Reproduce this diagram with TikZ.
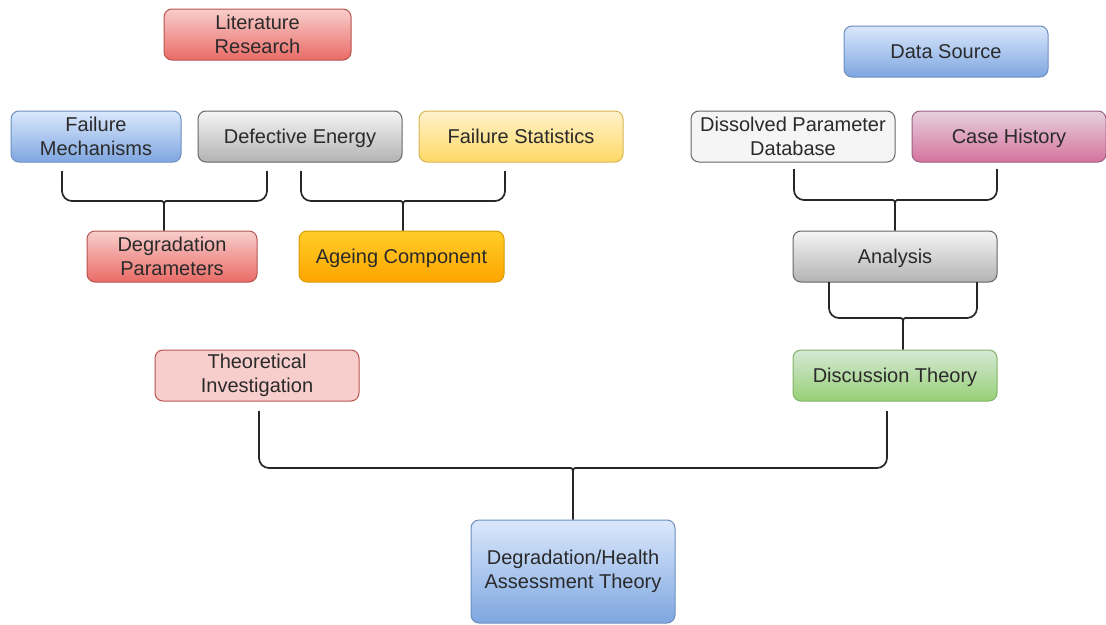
\documentclass[tikz,border=0pt]{standalone}
\usepackage{fontspec}
\setmainfont{Liberation Sans}
\usetikzlibrary{calc}
\definecolor{txt}{HTML}{2A2A2A}
\definecolor{redT}{HTML}{F8CECC}\definecolor{redB}{HTML}{EA6B66}\definecolor{redD}{HTML}{B85450}
\definecolor{bluT}{HTML}{DAE8FC}\definecolor{bluB}{HTML}{7EA6E0}\definecolor{bluD}{HTML}{6C8EBF}
\definecolor{gryT}{HTML}{F5F5F5}\definecolor{gryB}{HTML}{B3B3B3}\definecolor{gryD}{HTML}{666666}
\definecolor{yelT}{HTML}{FFF2CC}\definecolor{yelB}{HTML}{FFD966}\definecolor{yelD}{HTML}{D6B656}
\definecolor{orgT}{HTML}{FFCD28}\definecolor{orgB}{HTML}{FFA500}\definecolor{orgD}{HTML}{D79B00}
\definecolor{pnkT}{HTML}{E6D0DE}\definecolor{pnkB}{HTML}{D5739D}\definecolor{pnkD}{HTML}{996185}
\definecolor{grnT}{HTML}{D5E8D4}\definecolor{grnB}{HTML}{97D077}\definecolor{grnD}{HTML}{82B366}
\definecolor{lnk}{HTML}{262626}
\tikzset{
  box/.style={rounded corners=8pt, draw, line width=1pt, minimum height=51pt,
    minimum width=204pt, align=center, inner sep=1pt, text=txt,
    font=\fontsize{20}{24}\selectfont},
  single/.style={text height=16.5pt, text depth=2.2pt},
  redbox/.style={box, top color=redT, bottom color=redB, draw=redD},
  bluebox/.style={box, top color=bluT, bottom color=bluB, draw=bluD},
  graybox/.style={box, top color=gryT, bottom color=gryB, draw=gryD},
  yellowbox/.style={box, top color=yelT, bottom color=yelB, draw=yelD},
  orangebox/.style={box, top color=orgT, bottom color=orgB, draw=orgD},
  pinkbox/.style={box, top color=pnkT, bottom color=pnkB, draw=pnkD},
  greenbox/.style={box, top color=grnT, bottom color=grnB, draw=grnD},
  plainbox/.style={box, fill=gryT, draw=gryD},
  lightredbox/.style={box, fill=redT, draw=redD},
  brc/.style={draw=lnk, line width=1.7pt},
}
\begin{document}
\begin{tikzpicture}[x=1pt,y=-1pt]
\useasboundingbox (0,0) rectangle (1106,624);
% nodes
\node[redbox, minimum width=187pt] (lit) at (257.5,34.5) {Literature\\Research};
\node[bluebox, single] (ds) at (946,51.5) {Data Source};
\node[bluebox, minimum width=170pt] (fm) at (96,136.5) {Failure\\Mechanisms};
\node[graybox, single] (de) at (300,136.5) {Defective Energy};
\node[yellowbox, single] (fs) at (521,136.5) {Failure Statistics};
\node[plainbox] (dpd) at (793,136.5) {Dissolved Parameter\\Database};
\node[pinkbox, single, minimum width=194pt] (ch) at (1009,136.5) {Case History};
\node[redbox, minimum width=170pt] (dp) at (172,256.5) {Degradation\\Parameters};
\node[orangebox, single, minimum width=205pt] (ac) at (401.5,256.5) {Ageing Component};
\node[graybox, single] (an) at (895,256.5) {Analysis};
\node[lightredbox] (ti) at (257,375.5) {Theoretical\\Investigation};
\node[greenbox, single] (dt) at (895,375.5) {Discussion Theory};
\node[bluebox, minimum height=103pt] (dha) at (573,571.5) {Degradation/Health\\Assessment Theory};
% brace coordinates
\coordinate (l1) at (62,171);  \coordinate (r1) at (267,171);  \coordinate (j1) at (164,201);
\coordinate (l2) at (301,171); \coordinate (r2) at (505,171);  \coordinate (j2) at (403,201);
\coordinate (l3) at (794,169); \coordinate (r3) at (997,169);  \coordinate (j3) at (895,200);
\coordinate (l4) at (829,282); \coordinate (r4) at (977,282);  \coordinate (j4) at (903,318);
\coordinate (l5) at (259,411); \coordinate (r5) at (887,411);  \coordinate (j5) at (573,468);
% braces
\foreach \i/\t in {1/dp,2/ac,3/an,4/dt,5/dha}{
  \draw[brc] (l\i) [rounded corners=10pt] |- ([xshift=-12pt]j\i) [sharp corners]
     .. controls (j\i) .. ([yshift=-11pt]j\i) -- (\t.north -| j\i);
  \draw[brc] (r\i) [rounded corners=10pt] |- ([xshift=12pt]j\i) [sharp corners]
     .. controls (j\i) .. ([yshift=-11pt]j\i);
}
\end{tikzpicture}
\end{document}
